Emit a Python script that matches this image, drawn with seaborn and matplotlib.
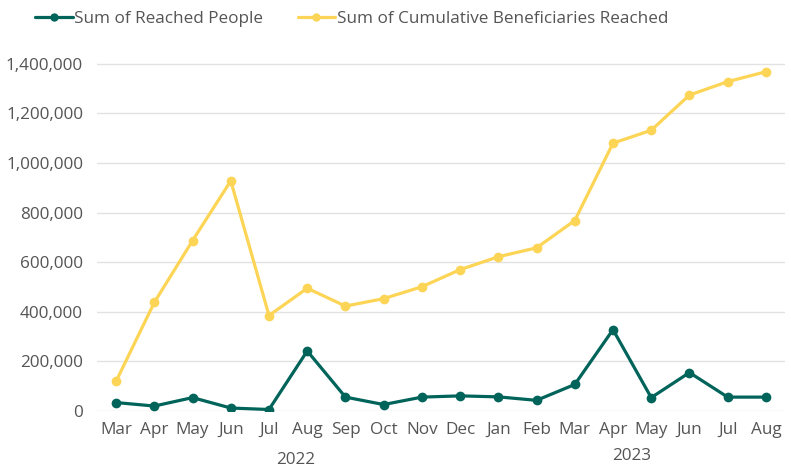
import pandas as pd
import matplotlib.pyplot as plt
import seaborn as sns

# Datos
months = ['Mar', 'Apr', 'May', 'Jun', 'Jul', 'Aug', 'Sep', 'Oct', 'Nov', 'Dec',
          'Jan', 'Feb', 'Mar', 'Apr', 'May', 'Jun', 'Jul', 'Aug']
years = ['2022'] * 10 + ['2023'] * 8
reached = [34000, 20000, 54000, 12000, 6000, 242000, 56000, 26000, 56000, 61000,
           57000, 43000, 107000, 328000, 54000, 155000, 56000, 56000]
cumulative = [120000, 438000, 687000, 928000, 385000, 495000, 423000, 453000, 501000, 570000,
              622000, 658000, 768000, 1080000, 1132000, 1274000, 1328000, 1368000]

series_names = ['Sum of Reached People', 'Sum of Cumulative Beneficiaries Reached']
colors = ['#00645a', '#fdd556']

idx = list(range(len(months)))
df = pd.concat([
    pd.DataFrame({'pos': idx, 'valor': reached, 'serie': series_names[0]}),
    pd.DataFrame({'pos': idx, 'valor': cumulative, 'serie': series_names[1]}),
])

sns.set_style('white')
plt.rcParams['font.family'] = ['Open Sans', 'DejaVu Sans']

fig = plt.figure(figsize=(7.91, 4.71), dpi=100)
ax = fig.add_axes([97 / 791, 1 - 411 / 471, 688 / 791, 372 / 471])

sns.lineplot(data=df, x='pos', y='valor', hue='serie', hue_order=series_names,
             palette=colors, marker='o', markersize=7, markeredgewidth=0,
             linewidth=2.3, ax=ax, legend=False)

ax.set_xlim(-0.5, len(months) - 0.5)
ax.set_ylim(0, 1500000)
ax.set_yticks(range(0, 1400001, 200000))
ax.set_yticklabels([f'{v:,}' for v in range(0, 1400001, 200000)])
ax.set_xticks(idx)
ax.set_xticklabels(months)
ax.tick_params(axis='both', length=0, labelsize=12.3, labelcolor='#555555')
ax.tick_params(axis='y', pad=10)
ax.tick_params(axis='x', pad=8)
ax.grid(axis='y', color='#e2e2e2', linewidth=1)
ax.set_axisbelow(True)
for s in ax.spines.values():
    s.set_visible(False)
ax.set_xlabel('')
ax.set_ylabel('')

# Etiquetas de anio
for yr, dy in [('2022', -0.132), ('2023', -0.12)]:
    ps = [p for p, y in zip(idx, years) if y == yr]
    ax.text((min(ps) + max(ps)) / 2 + (0.2 if yr == '2022' else 0), dy, yr,
            transform=ax.get_xaxis_transform(), ha='center', va='center',
            fontsize=12.3, color='#555555')

# Leyenda
handles = [plt.Line2D([], [], color=c, marker='o', markersize=6, markeredgewidth=0,
                      linewidth=2.3) for c in colors]
fig.legend(handles, series_names, loc='upper left', bbox_to_anchor=(0.025, 1.01),
           ncol=2, frameon=False, fontsize=12.3, handlelength=2.2, handletextpad=0.1,
           columnspacing=2.0, labelcolor='#555555')

plt.savefig('out.png', dpi=100)
